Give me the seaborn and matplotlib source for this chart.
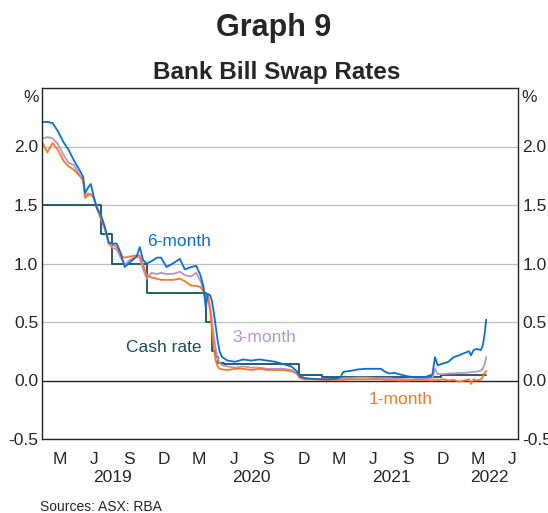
import matplotlib
matplotlib.use("Agg")
import matplotlib.pyplot as plt
import matplotlib.transforms as mtransforms
import pandas as pd
import seaborn as sns

# bank bill swap rates (per cent)
dates = [
    "2019-01-02", "2019-01-14", "2019-01-28", "2019-02-11", "2019-02-25",
    "2019-03-11", "2019-03-25", "2019-04-08", "2019-04-18", "2019-04-23",
    "2019-05-01", "2019-05-08", "2019-05-15", "2019-05-24", "2019-06-03",
    "2019-06-14", "2019-06-24", "2019-07-06", "2019-07-15", "2019-07-25",
    "2019-08-05", "2019-08-18", "2019-09-05", "2019-09-13", "2019-09-22",
    "2019-10-01", "2019-10-14", "2019-10-28", "2019-11-08", "2019-11-22",
    "2019-12-09", "2019-12-27", "2020-01-09", "2020-01-26", "2020-02-08",
    "2020-02-19", "2020-02-27", "2020-03-04", "2020-03-09", "2020-03-15",
    "2020-03-20", "2020-03-25", "2020-03-30", "2020-04-04", "2020-04-09",
    "2020-04-16", "2020-04-30", "2020-05-20", "2020-06-10", "2020-07-01",
    "2020-07-22", "2020-08-12", "2020-09-02", "2020-09-23", "2020-10-14",
    "2020-10-28", "2020-11-06", "2020-11-20", "2020-12-15", "2021-01-15",
    "2021-02-12", "2021-02-20", "2021-02-27", "2021-03-17", "2021-04-07",
    "2021-04-28", "2021-05-19", "2021-06-05", "2021-06-17", "2021-06-27",
    "2021-07-10", "2021-07-22", "2021-08-12", "2021-09-03", "2021-09-27",
    "2021-10-18", "2021-10-25", "2021-11-01", "2021-11-15", "2021-11-29",
    "2021-12-13", "2021-12-27", "2022-01-10", "2022-01-22", "2022-01-27",
    "2022-02-03", "2022-02-11", "2022-02-22", "2022-02-27", "2022-03-04",
    "2022-03-08",
]
six_month = [
    2.21, 2.21, 2.20, 2.13, 2.04,
    1.97, 1.88, 1.80, 1.74, 1.60,
    1.65, 1.68, 1.58, 1.47, 1.42,
    1.31, 1.18, 1.17, 1.17, 1.09,
    0.97, 1.01, 1.06, 1.14, 1.03,
    1.00, 1.02, 1.05, 1.05, 0.97,
    1.00, 1.04, 0.95, 0.97, 0.98,
    0.90, 0.80, 0.62, 0.74, 0.73,
    0.68, 0.58, 0.46, 0.34, 0.25,
    0.20, 0.17, 0.16, 0.18, 0.17,
    0.18, 0.17, 0.16, 0.14, 0.12,
    0.08, 0.035, 0.02, 0.012, 0.01,
    0.017, 0.03, 0.074, 0.082, 0.095,
    0.10, 0.10, 0.10, 0.074, 0.06,
    0.065, 0.055, 0.037, 0.026, 0.028,
    0.05, 0.20, 0.13, 0.145, 0.16,
    0.20, 0.215, 0.235, 0.25, 0.215,
    0.26, 0.27, 0.26, 0.30, 0.40,
    0.52,
]
three_month = [
    2.07, 2.08, 2.07, 2.02, 1.93,
    1.86, 1.84, 1.76, 1.70, 1.57,
    1.58, 1.59, 1.56, 1.49, 1.40,
    1.29, 1.17, 1.13, 1.12, 1.05,
    0.99, 1.03, 1.06, 1.05, 0.95,
    0.87, 0.92, 0.91, 0.92, 0.91,
    0.91, 0.93, 0.90, 0.89, 0.92,
    0.85, 0.78, 0.68, 0.74, 0.64,
    0.52, 0.38, 0.27, 0.19, 0.15,
    0.13, 0.12, 0.11, 0.12, 0.11,
    0.11, 0.10, 0.10, 0.10, 0.09,
    0.06, 0.02, 0.015, 0.01, 0.01,
    0.01, 0.015, 0.02, 0.02, 0.025,
    0.025, 0.02, 0.02, 0.02, 0.02,
    0.015, 0.015, 0.01, 0.01, 0.015,
    0.02, 0.10, 0.055, 0.055, 0.06,
    0.06, 0.065, 0.065, 0.07, 0.07,
    0.075, 0.075, 0.085, 0.10, 0.14,
    0.20,
]
one_month = [
    2.03, 1.95, 2.03, 1.97, 1.88,
    1.83, 1.80, 1.75, 1.72, 1.56,
    1.60, 1.59, 1.57, 1.47, 1.38,
    1.30, 1.17, 1.16, 1.14, 1.07,
    1.05, 1.06, 1.07, 1.07, 0.99,
    0.90, 0.88, 0.87, 0.86, 0.86,
    0.86, 0.87, 0.85, 0.81, 0.81,
    0.80, 0.76, 0.68, 0.72, 0.60,
    0.44, 0.28, 0.17, 0.12, 0.10,
    0.095, 0.09, 0.10, 0.10, 0.09,
    0.10, 0.09, 0.09, 0.09, 0.08,
    0.06, 0.02, 0.01, 0.01, 0.005,
    0.005, 0.005, 0.005, 0.01, 0.01,
    0.01, 0.01, 0.01, 0.005, 0.005,
    0.005, 0.0, 0.0, 0.005, 0.005,
    0.0, 0.01, 0.005, 0.01, 0.0,
    0.005, -0.01, 0.0, 0.01, -0.03,
    0.01, 0.0, 0.01, 0.03, 0.07,
    0.08,
]

# interbank overnight cash rate (step changes)
cash_dates = [
    "2019-01-01", "2019-06-04", "2019-07-03", "2019-10-02", "2020-03-04",
    "2020-03-20", "2020-03-30", "2020-04-06", "2020-04-20", "2020-11-04",
    "2021-01-01", "2021-11-10", "2022-03-08",
]
cash_rate = [
    1.50, 1.25, 1.00, 0.75, 0.50,
    0.25, 0.20, 0.15, 0.14, 0.045,
    0.03, 0.045, 0.045,
]

month_labels = ["M", "J", "S", "D"]
years = [2019, 2020, 2021, 2022]
y_ticks = [-0.5, 0.0, 0.5, 1.0, 1.5, 2.0]

BLUE = "#0B6FD1"
LAVENDER = "#B894C9"
ORANGE = "#FF7526"
TEAL = "#18505E"

sns.set_style("white")
plt.rcParams["font.family"] = ["Liberation Sans", "DejaVu Sans"]

df = pd.DataFrame({
    "date": pd.to_datetime(dates),
    "six": six_month,
    "three": three_month,
    "one": one_month,
})
cash = pd.DataFrame({"date": pd.to_datetime(cash_dates), "rate": cash_rate})

fig = plt.figure(figsize=(5.48, 5.13), dpi=100)
ax = fig.add_axes([42.3 / 548, 74 / 513, 476 / 548, 351 / 513])

# grid first so the lines sit on top
for y in [0.5, 1.0, 1.5, 2.0]:
    ax.axhline(y, color="#BDBDBD", lw=0.9, zorder=0)
ax.axhline(0, color="#222222", lw=1.0, zorder=1)

sns.lineplot(data=cash, x="date", y="rate", ax=ax, color=TEAL, lw=1.3,
             drawstyle="steps-post", estimator=None)
sns.lineplot(data=df, x="date", y="three", ax=ax, color=LAVENDER, lw=1.3,
             estimator=None)
sns.lineplot(data=df, x="date", y="one", ax=ax, color=ORANGE, lw=1.3,
             estimator=None)
sns.lineplot(data=df, x="date", y="six", ax=ax, color=BLUE, lw=1.3,
             estimator=None)

x0 = pd.Timestamp("2019-01-01")
x1 = pd.Timestamp("2022-05-31")
ax.set_xlim(x0, x1)
ax.set_ylim(-0.5, 2.5)
ax.set_xlabel("")
ax.set_ylabel("")

# y axis: labels both sides, no tick marks
ax.set_yticks(y_ticks)
ax.set_yticklabels([f"{v:.1f}" for v in y_ticks])
ax.tick_params(axis="y", length=0, labelsize=12.5, pad=3,
               labelleft=True, labelright=True)

# x axis: quarter ticks inside, month letters centred in each quarter
quarter_starts = pd.date_range("2019-04-01", "2022-04-01", freq="QS")
ax.set_xticks(quarter_starts)
ax.set_xticklabels([])
ax.tick_params(axis="x", which="major", direction="in", length=5,
               width=1, color="#222222")
mids, mid_labels = [], []
for yr in years:
    for i, m in enumerate(month_labels):
        start = pd.Timestamp(year=yr, month=1 + 3 * i, day=1)
        mid = start + pd.Timedelta(days=45)
        if mid < x1:
            mids.append(mid)
            mid_labels.append(m)
ax.set_xticks(mids, minor=True)
ax.set_xticklabels(mid_labels, minor=True)
ax.tick_params(axis="x", which="minor", length=0, labelsize=12.5, pad=9)

trans = mtransforms.blended_transform_factory(ax.transData, ax.transAxes)
for yr in years:
    a = max(pd.Timestamp(year=yr, month=1, day=1), x0)
    b = min(pd.Timestamp(year=yr + 1, month=1, day=1), x1)
    ax.text(a + (b - a) / 2, -0.111, str(yr), transform=trans,
            ha="center", va="center", fontsize=12.5)

for s in ax.spines.values():
    s.set_visible(True)
    s.set_color("#222222")
    s.set_linewidth(1.0)

# series labels
ax.text(pd.Timestamp("2019-12-24"), 1.15, "6-month", color=BLUE,
        ha="center", va="baseline", fontsize=12.5)
ax.text(pd.Timestamp("2020-08-03"), 0.33, "3-month", color=LAVENDER,
        ha="center", va="baseline", fontsize=12.5)
ax.text(pd.Timestamp("2019-11-15"), 0.245, "Cash rate", color=TEAL,
        ha="center", va="baseline", fontsize=12.5)
ax.text(pd.Timestamp("2021-07-26"), -0.197, "1-month", color=ORANGE,
        ha="center", va="baseline", fontsize=12.5)

fig.text(31 / 548, 1 - 97 / 513, "%", ha="center", va="center", fontsize=12.5)
fig.text(529 / 548, 1 - 97 / 513, "%", ha="center", va="center", fontsize=12.5)

fig.text(0.5, 1 - 36 / 513, "Graph 9", ha="center", va="baseline",
         fontsize=22, fontweight="bold")
fig.text(0.505, 1 - 79 / 513, "Bank Bill Swap Rates", ha="center",
         va="baseline", fontsize=17.5, fontweight="bold")
fig.text(40 / 548, 1 - 507 / 513, "Sources: ASX: RBA", ha="left",
         va="center", fontsize=10)

fig.savefig("out.png", dpi=100)
